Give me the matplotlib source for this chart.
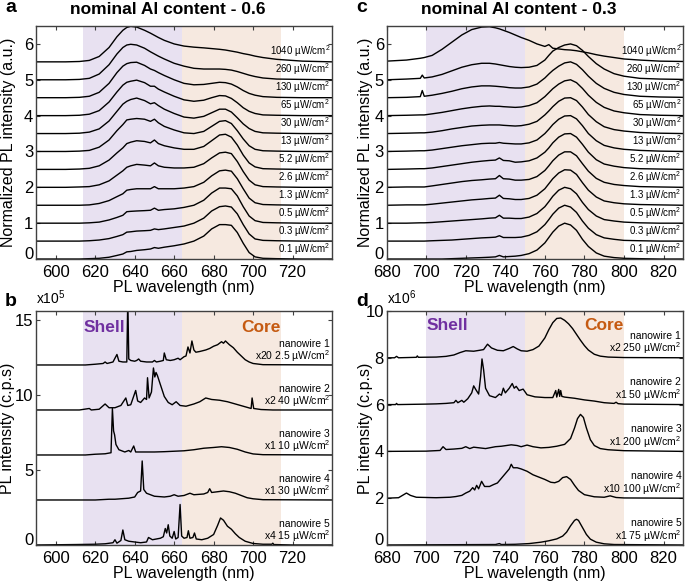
import numpy as np
import matplotlib.pyplot as plt
from matplotlib.transforms import ScaledTranslation

plt.rcParams['font.family'] = ['Liberation Sans', 'DejaVu Sans']
plt.rcParams['mathtext.fontset'] = 'custom'
plt.rcParams['mathtext.rm'] = 'Liberation Sans'
plt.rcParams['mathtext.it'] = 'Liberation Sans'

# ---------------- data ----------------
powers = ['0.1', '0.3', '0.5', '1.3', '2.6', '5.2', '13', '30', '65', '130', '260', '1040']

# panel a : Al 0.6, normalized spectra (relative to own baseline)
a_wl = [590, 605, 612, 617, 622, 627, 631, 634, 636, 638, 641, 645, 648, 650, 652, 655,
        660, 665, 670, 675, 679, 683, 686, 689, 692, 695, 698, 701, 705, 712, 725, 740]
a_01 = [0, 0, 0, 0.01, 0.02, 0.05, 0.1, 0.14, 0.2, 0.21, 0.24, 0.26, 0.28, 0.32, 0.3, 0.33,
        0.37, 0.42, 0.5, 0.64, 0.84, 0.96, 0.96, 0.94, 0.74, 0.44, 0.18, 0.06, 0.02, 0.01, 0, 0]
a_03 = [0, 0, 0, 0.01, 0.03, 0.07, 0.13, 0.18, 0.25, 0.26, 0.28, 0.29, 0.3, 0.34, 0.32, 0.34,
        0.38, 0.42, 0.5, 0.64, 0.84, 0.96, 0.98, 0.95, 0.76, 0.46, 0.2, 0.06, 0.02, 0.01, 0, 0]
a_05 = [0, 0, 0, 0.01, 0.03, 0.09, 0.16, 0.22, 0.32, 0.33, 0.34, 0.35, 0.36, 0.42, 0.36, 0.38,
        0.4, 0.44, 0.5, 0.64, 0.84, 0.98, 0.98, 0.96, 0.76, 0.46, 0.2, 0.07, 0.02, 0.01, 0, 0]
a_13 = [0, 0, 0, 0.01, 0.05, 0.13, 0.24, 0.32, 0.42, 0.44, 0.46, 0.46, 0.46, 0.52, 0.46, 0.46,
        0.46, 0.48, 0.52, 0.64, 0.82, 0.96, 0.98, 0.95, 0.74, 0.46, 0.2, 0.07, 0.02, 0.01, 0, 0]
a_26 = [0, 0, 0.01, 0.02, 0.07, 0.18, 0.34, 0.46, 0.56, 0.6, 0.64, 0.62, 0.6, 0.68, 0.6, 0.56,
        0.54, 0.54, 0.56, 0.66, 0.82, 0.96, 0.98, 0.94, 0.72, 0.44, 0.2, 0.07, 0.02, 0.01, 0, 0]
a_52 = [0, 0, 0.01, 0.03, 0.1, 0.26, 0.46, 0.6, 0.72, 0.76, 0.8, 0.78, 0.74, 0.82, 0.72, 0.66,
        0.6, 0.56, 0.56, 0.64, 0.8, 0.96, 0.98, 0.9, 0.68, 0.4, 0.18, 0.07, 0.02, 0.01, 0, 0]
a_130 = [0, 0, 0.01, 0.03, 0.12, 0.32, 0.58, 0.75, 0.88, 0.9, 0.92, 0.9, 0.84, 0.9, 0.8, 0.7,
         0.6, 0.52, 0.5, 0.56, 0.7, 0.84, 0.86, 0.78, 0.58, 0.35, 0.16, 0.06, 0.02, 0.01, 0, 0]
a_300 = [0, 0, 0.01, 0.04, 0.13, 0.35, 0.62, 0.82, 0.9, 0.95, 0.99, 0.92, 0.83, 0.86, 0.78, 0.68,
         0.56, 0.46, 0.43, 0.48, 0.58, 0.68, 0.68, 0.6, 0.44, 0.27, 0.14, 0.06, 0.02, 0.01, 0, 0]
a_650 = [0, 0, 0.01, 0.04, 0.14, 0.38, 0.66, 0.85, 0.93, 0.96, 0.99, 0.92, 0.82, 0.82, 0.74, 0.66,
         0.54, 0.44, 0.4, 0.43, 0.5, 0.56, 0.55, 0.48, 0.36, 0.22, 0.12, 0.06, 0.02, 0.01, 0, 0]
a_1300 = [0, 0, 0.01, 0.04, 0.15, 0.4, 0.7, 0.88, 0.95, 0.98, 0.99, 0.9, 0.8, 0.76, 0.7, 0.62,
          0.5, 0.4, 0.36, 0.37, 0.4, 0.43, 0.42, 0.38, 0.3, 0.2, 0.12, 0.07, 0.03, 0.01, 0, 0]
a_2600 = [0, 0, 0.01, 0.04, 0.16, 0.42, 0.72, 0.9, 0.97, 0.99, 0.97, 0.88, 0.78, 0.72, 0.66, 0.58,
          0.46, 0.38, 0.32, 0.3, 0.3, 0.3, 0.29, 0.27, 0.23, 0.18, 0.13, 0.09, 0.05, 0.02, 0.01, 0]
a_10400 = [0, 0, 0.01, 0.04, 0.15, 0.4, 0.7, 0.88, 0.96, 0.99, 0.97, 0.88, 0.8, 0.74, 0.68, 0.6,
           0.5, 0.44, 0.41, 0.39, 0.37, 0.35, 0.33, 0.3, 0.27, 0.23, 0.2, 0.16, 0.12, 0.07, 0.02, 0]

# panel c : Al 0.3, normalized spectra
c_wl = [680, 690, 697, 698, 699, 703, 708, 713, 718, 723, 728, 732, 735, 737, 739, 742, 745, 748,
        752, 756, 760, 762, 764, 767, 770, 773, 776, 779, 782, 786, 790, 795, 800, 808, 818, 830]
c_01 = [0, 0, 0, 0, 0, 0, 0, 0.01, 0.02, 0.03, 0.04, 0.05, 0.06, 0.1, 0.06, 0.07, 0.08, 0.1,
        0.15, 0.25, 0.45, 0.6, 0.75, 0.92, 1.0, 0.95, 0.8, 0.55, 0.35, 0.17, 0.08, 0.04, 0.02, 0.01, 0, 0]
c_03 = [0, 0, 0, 0, 0, 0.01, 0.02, 0.03, 0.05, 0.07, 0.09, 0.1, 0.11, 0.15, 0.1, 0.1, 0.1, 0.11,
        0.16, 0.26, 0.46, 0.6, 0.75, 0.92, 1.0, 0.95, 0.8, 0.56, 0.36, 0.18, 0.09, 0.05, 0.02, 0.01, 0, 0]
c_05 = [0, 0, 0.01, 0.01, 0.01, 0.02, 0.04, 0.06, 0.08, 0.1, 0.12, 0.14, 0.15, 0.22, 0.14, 0.14, 0.13, 0.13,
        0.17, 0.27, 0.46, 0.6, 0.75, 0.92, 1.0, 0.96, 0.82, 0.58, 0.38, 0.2, 0.1, 0.06, 0.03, 0.01, 0, 0]
c_13 = [0, 0.01, 0.01, 0.01, 0.01, 0.03, 0.06, 0.09, 0.12, 0.15, 0.17, 0.19, 0.2, 0.28, 0.19, 0.18, 0.16, 0.16,
        0.19, 0.28, 0.46, 0.6, 0.74, 0.9, 0.99, 0.98, 0.86, 0.63, 0.42, 0.23, 0.12, 0.07, 0.04, 0.02, 0.01, 0]
c_26 = [0, 0.01, 0.01, 0.01, 0.01, 0.04, 0.08, 0.12, 0.16, 0.19, 0.21, 0.23, 0.24, 0.33, 0.24, 0.23, 0.2, 0.2,
        0.22, 0.3, 0.47, 0.6, 0.74, 0.9, 0.99, 0.99, 0.88, 0.66, 0.45, 0.25, 0.14, 0.08, 0.05, 0.02, 0.01, 0]
c_52 = [0, 0.01, 0.02, 0.02, 0.02, 0.04, 0.08, 0.12, 0.16, 0.2, 0.23, 0.25, 0.26, 0.32, 0.25, 0.24, 0.2, 0.21,
        0.24, 0.32, 0.48, 0.6, 0.74, 0.9, 0.99, 1.0, 0.9, 0.7, 0.48, 0.27, 0.15, 0.09, 0.05, 0.02, 0.01, 0]
c_130 = [0, 0.01, 0.02, 0.02, 0.02, 0.04, 0.08, 0.12, 0.16, 0.19, 0.22, 0.23, 0.23, 0.25, 0.23, 0.22, 0.21, 0.21,
         0.24, 0.32, 0.5, 0.62, 0.75, 0.9, 0.99, 1.0, 0.91, 0.72, 0.5, 0.3, 0.17, 0.1, 0.06, 0.03, 0.01, 0]
c_300 = [0, 0.01, 0.02, 0.02, 0.02, 0.04, 0.08, 0.13, 0.17, 0.21, 0.23, 0.24, 0.24, 0.24, 0.23, 0.22, 0.21, 0.22,
         0.26, 0.34, 0.52, 0.63, 0.75, 0.9, 0.99, 1.0, 0.92, 0.74, 0.53, 0.33, 0.19, 0.11, 0.07, 0.03, 0.01, 0]
c_650 = [0, 0.01, 0.02, 0.02, 0.02, 0.05, 0.09, 0.14, 0.19, 0.23, 0.26, 0.27, 0.26, 0.26, 0.25, 0.24, 0.23, 0.24,
         0.28, 0.36, 0.53, 0.64, 0.75, 0.88, 0.97, 1.0, 0.92, 0.76, 0.57, 0.37, 0.23, 0.13, 0.08, 0.03, 0.01, 0]
c_1300 = [0, 0.01, 0.03, 0.2, 0.04, 0.07, 0.12, 0.18, 0.25, 0.3, 0.33, 0.33, 0.32, 0.31, 0.3, 0.28, 0.27, 0.27,
          0.3, 0.38, 0.55, 0.66, 0.76, 0.88, 0.97, 1.0, 0.93, 0.78, 0.6, 0.4, 0.26, 0.15, 0.09, 0.04, 0.02, 0.01]
c_2600 = [0, 0.02, 0.04, 0.13, 0.05, 0.08, 0.15, 0.25, 0.35, 0.42, 0.46, 0.46, 0.44, 0.42, 0.4, 0.37, 0.35, 0.34,
          0.35, 0.4, 0.55, 0.68, 0.8, 0.9, 0.97, 1.0, 0.95, 0.82, 0.65, 0.45, 0.3, 0.17, 0.1, 0.04, 0.02, 0.01]
c_10400 = [0.02, 0.05, 0.1, 0.11, 0.12, 0.18, 0.35, 0.55, 0.75, 0.9, 0.97, 0.98, 0.95, 0.92, 0.88, 0.82, 0.75, 0.68,
           0.6, 0.5, 0.43, 0.48, 0.38, 0.36, 0.34, 0.33, 0.31, 0.28, 0.25, 0.2, 0.16, 0.12, 0.08, 0.05, 0.02, 0.01]

# panel b : Al 0.6 single nanowires, (wavelength nm, counts x1e5 above own baseline)
b_nw1 = [(590, 0), (615, 0), (620, 0.05), (624, 0.1), (625, 0.2), (626, 0.1), (629, 0.2), (631, 0.7),
         (632, 0.25), (634, 0.2), (636, 0.2), (636.5, 4.5), (637, 0.4), (638, 0.3), (640, 0.25), (641, 0.3),
         (642, 0.4), (643, 0.25), (646, 0.2), (649, 0.2), (650, 0.3), (651, 0.2), (653, 0.25), (654.5, 0.3),
         (655, 0.8), (656, 0.35), (658, 0.3), (660, 0.35), (662, 0.45), (663, 0.35), (665, 0.55), (666, 0.6),
         (667, 1.2), (668, 0.8), (669, 1.6), (670, 1.0), (671, 0.85), (673, 0.9), (676, 1.0), (678, 1.1),
         (680, 1.25), (682, 1.35), (684, 1.55), (685, 1.45), (686, 1.6), (688, 1.35), (690, 1.15), (692, 0.85),
         (694, 0.6), (696, 0.35), (698, 0.2), (700, 0.1), (705, 0.02), (740, 0)]
b_nw2 = [(590, 0), (612, 0), (617, 0.1), (618, 0), (622, 0.05), (625, 0.4), (627, 0.15), (630, 0.15),
         (633, 0.3), (635.5, 0.8), (636.5, 0.3), (638, 0.35), (640.5, 1.3), (641.5, 0.6), (643, 0.5),
         (645, 0.8), (646, 0.7), (646.5, 2.15), (647.3, 0.8), (648.5, 1.2), (649.5, 2.8), (650.2, 2.2),
         (650.8, 2.5), (651.5, 2.3), (652.5, 1.9), (653.5, 1.5), (655, 0.9), (657, 0.5), (659, 0.35),
         (661, 0.55), (663, 0.3), (666, 0.25), (670, 0.4), (673, 0.55), (676, 0.8), (679, 0.7), (683, 0.65),
         (687, 0.55), (691, 0.4), (695, 0.25), (699, 0.1), (699.5, 0.8), (700.3, 0.1), (704, 0.03),
         (710, 0), (740, 0)]
b_nw3 = [(590, 0), (615, 0), (620, 0.05), (625, 0.08), (628, 0.15), (628.7, 3.1), (629.3, 1.6),
         (629.8, 1.35), (630.5, 0.7), (632, 0.35), (635, 0.2), (637, 0.3), (638, 0.2), (639.5, 0.6),
         (640.5, 0.2), (645, 0.2), (650, 0.2), (655, 0.22), (660, 0.25), (665, 0.28), (670, 0.35),
         (675, 0.45), (680, 0.5), (684, 0.55), (688, 0.5), (692, 0.38), (696, 0.2), (700, 0.07),
         (705, 0.02), (740, 0)]
b_nw4 = [(590, 0), (620, 0), (627, 0.05), (630, 0.05), (637, 0.12), (640, 0.2), (641.5, 0.5), (643, 0.6),
         (643.8, 2.6), (644.6, 0.7), (646, 0.45), (648, 0.35), (650, 0.25), (655, 0.2), (658, 0.25),
         (660, 0.35), (662, 0.25), (665, 0.3), (668, 0.45), (670, 0.35), (675, 0.4), (677, 0.5),
         (678, 0.75), (679, 0.5), (682, 0.55), (685, 0.6), (688, 0.55), (691, 0.45), (694, 0.3),
         (697, 0.15), (700, 0.08), (705, 0.02), (740, 0)]
b_nw5 = [(590, 0), (610, 0.03), (620, 0.05), (625, 0.08), (629, 0.15), (630, 0.35), (631, 0.12),
         (633, 0.3), (634, 1.0), (635, 0.35), (637, 0.25), (640, 0.2), (643, 0.15), (646, 0.2), (647, 0.5),
         (649, 0.35), (651, 0.4), (653, 0.45), (654.5, 0.55), (655.5, 1.1), (656.2, 0.8), (657, 1.35),
         (657.8, 0.6), (659, 0.45), (660, 0.9), (660.8, 0.4), (662, 0.5), (663, 2.7), (663.8, 0.6),
         (665, 0.45), (666.5, 0.5), (667.2, 0.95), (668, 0.45), (669.5, 0.5), (670.3, 0.8), (671.2, 0.4),
         (674, 0.35), (677, 0.45), (680, 0.7), (682, 1.3), (683.5, 1.8), (685, 1.65), (687, 1.25),
         (689, 1.05), (691, 0.75), (693, 0.5), (696, 0.25), (700, 0.1), (705, 0.05), (709.5, 0.05),
         (710, 0.12), (710.5, 0.03), (720, 0), (740, 0)]
b_labels = [('nanowire 1', 'x20 2.5 µW/cm$^2$'), ('nanowire 2', 'x2 40 µW/cm$^2$'),
            ('nanowire 3', 'x1 10 µW/cm$^2$'), ('nanowire 4', 'x1 30 µW/cm$^2$'),
            ('nanowire 5', 'x4 15 µW/cm$^2$')]

# panel d : Al 0.3 single nanowires (x1e6)
d_nw1 = [(680, 0), (684, 0), (685, 0.06), (686, 0), (695, 0.02), (695.5, 0.08), (696, 0.02), (705, 0.03),
         (710, 0.06), (714, 0.12), (717, 0.22), (720, 0.3), (724, 0.28), (727, 0.32), (729, 0.35), (731, 0.58),
         (733, 0.42), (736, 0.32), (739, 0.3), (742, 0.4), (744, 0.48), (746, 0.38), (748, 0.3), (751, 0.28),
         (754, 0.35), (757, 0.5), (760, 0.85), (762, 1.2), (764, 1.5), (766, 1.68), (768, 1.7), (770, 1.6),
         (772, 1.45), (774, 1.25), (776, 1.0), (778, 0.75), (780, 0.52), (782, 0.33), (785, 0.15),
         (788, 0.07), (792, 0.03), (800, 0.01), (830, 0)]
d_nw2 = [(680, 0), (684.5, 0), (685, 0.05), (685.5, 0), (700, 0.02), (705, 0.03), (710, 0.05), (714, 0.08),
         (715, 0.18), (716, 0.08), (718, 0.18), (719, 0.1), (721, 0.25), (723, 0.5), (724, 0.8), (725, 0.65),
         (726.5, 0.45), (727.5, 1.2), (728.2, 1.95), (729, 1.5), (730, 0.7), (732, 0.38), (735, 0.3),
         (737, 0.45), (738, 0.4), (739, 0.7), (740, 0.5), (742, 0.7), (743.5, 0.9), (744.5, 0.7),
         (745.5, 0.78), (747, 0.6), (749, 0.66), (751, 0.42), (755, 0.33), (760, 0.3), (764, 0.3),
         (765.5, 0.6), (766, 0.32), (767, 0.65), (767.5, 0.35), (768, 0.6), (768.6, 0.35), (770, 0.32),
         (775, 0.27), (780, 0.2), (785, 0.15), (790, 0.08), (795, 0.05), (796, 0.1), (797, 0.04),
         (800, 0.02), (830, 0)]
d_nw3 = [(680, 0), (700, 0.01), (707, 0.04), (708.5, 0.2), (710, 0.08), (714, 0.1), (718, 0.13), (720, 0.2),
         (722, 0.12), (724, 0.18), (727, 0.15), (730, 0.12), (735, 0.2), (738, 0.22), (743, 0.28),
         (746, 0.25), (748, 0.2), (751, 0.27), (754, 0.2), (758, 0.15), (762, 0.17), (766, 0.22),
         (770, 0.3), (773, 0.55), (775, 1.0), (776.5, 1.4), (778, 1.58), (779.5, 1.45), (781, 1.0),
         (783, 0.5), (785, 0.25), (788, 0.12), (792, 0.07), (800, 0.03), (830, 0)]
d_nw4 = [(680, 0), (686, 0.02), (688, 0.12), (690, 0.22), (692, 0.12), (695, 0.04), (705, 0.02), (712, 0.04),
         (715, 0.07), (718, 0.12), (720, 0.22), (722, 0.3), (723.5, 0.45), (724.5, 0.35), (725.5, 0.55),
         (726.5, 0.4), (728, 0.72), (729.5, 0.5), (732, 0.5), (734, 0.58), (736, 0.65), (738, 0.85),
         (740, 1.05), (742, 1.25), (743, 1.45), (744, 1.3), (746, 1.3), (748, 1.25), (751, 1.15),
         (754, 1.0), (757, 0.9), (760, 0.8), (763, 0.68), (765, 0.66), (767, 0.72), (769, 0.88),
         (771, 0.92), (773, 0.8), (775, 0.55), (777, 0.33), (780, 0.15), (785, 0.06), (790, 0.04),
         (793, 0.1), (796, 0.03), (800, 0.01), (830, 0)]
d_nw5 = [(680, 0), (735, 0.02), (737, 0.06), (738, 0.02), (745, 0.03), (752, 0.06), (758, 0.12), (762, 0.18),
         (766, 0.26), (769, 0.38), (771, 0.55), (773, 0.82), (775, 1.05), (776, 1.1), (777, 1.05),
         (779, 0.75), (781, 0.45), (783, 0.25), (786, 0.12), (790, 0.05), (795, 0.02), (830, 0)]
d_labels = [('nanowire 1', 'x2 250 µW/cm$^2$'), ('nanowire 2', 'x1 50 µW/cm$^2$'),
            ('nanowire 3', 'x1 200 µW/cm$^2$'), ('nanowire 4', 'x10 100 µW/cm$^2$'),
            ('nanowire 5', 'x1 75 µW/cm$^2$')]

# ---------------- figure ----------------
VIOLET = '#e8e1f1'
PEACH = '#f6e9e0'

fig = plt.figure(figsize=(6.85, 5.83), dpi=100)
ax_a = fig.add_axes([0.0526, 0.5557, 0.4321, 0.3997])
ax_c = fig.add_axes([0.5645, 0.5557, 0.4330, 0.3997])
ax_b = fig.add_axes([0.0526, 0.0652, 0.4321, 0.4014])
ax_d = fig.add_axes([0.5645, 0.0652, 0.4330, 0.4014])


def style(ax, xlim, ylim, xticks, yticks, shell, ylabel, ylab_x):
    ax.axvspan(shell, shell + 50, color=VIOLET, lw=0, zorder=0)
    ax.axvspan(shell + 50, shell + 100, color=PEACH, lw=0, zorder=0)
    ax.set_xlim(*xlim)
    ax.set_ylim(*ylim)
    ax.set_xticks(xticks)
    ax.set_yticks(yticks)
    ax.tick_params(direction='in', top=True, right=True, length=3, width=0.8,
                   labelsize=12, color='0.25')
    ax.tick_params(axis='x', pad=4)
    ax.tick_params(axis='y', pad=2)
    for s in ax.spines.values():
        s.set_color('0.25')
        s.set_linewidth(1.0)
    ax.set_xlabel('PL wavelength (nm)', fontsize=11.5, labelpad=0)
    ax.set_ylabel(ylabel, fontsize=11.5)
    ax.yaxis.set_label_coords(ylab_x, 0.5)
    # lift the "0" a little so it clears the first wavelength label
    fig.canvas.draw()
    lab0 = ax.get_yticklabels()[0]
    lab0.set_transform(lab0.get_transform() + ScaledTranslation(0, 4 / 72, fig.dpi_scale_trans))


# panel a
a_curves = [a_01, a_03, a_05, a_13, a_26, a_52, a_130, a_300, a_650, a_1300, a_2600, a_10400]
style(ax_a, (590, 740), (0, 6.5), range(600, 721, 20), range(0, 7), 614,
      'Normalized PL intensity (a.u.)', -0.068)
for i, (p, vals) in enumerate(zip(powers, a_curves)):
    ax_a.plot(a_wl, np.array(vals) + 0.5 * i, color='k', lw=1)
    ax_a.text(739, 0.5 * i + 0.07, p + ' µW/cm$^2$', ha='right', va='bottom', fontsize=7)

# panel c
c_curves = [c_01, c_03, c_05, c_13, c_26, c_52, c_130, c_300, c_650, c_1300, c_2600, c_10400]
style(ax_c, (680, 830), (0, 6.5), range(680, 821, 20), range(0, 7), 700,
      'Normalized PL intensity (a.u.)', -0.046)
for i, (p, vals) in enumerate(zip(powers, c_curves)):
    ax_c.plot(c_wl, np.array(vals) + 0.5 * i, color='k', lw=1)
    ax_c.text(829, 0.5 * i + 0.07, p + ' µW/cm$^2$', ha='right', va='bottom', fontsize=7)

# panel b
style(ax_b, (590, 740), (0, 15.6), [600, 620, 640, 660, 680, 700, 720], [0, 5, 10, 15], 614,
      'PL intensity (c.p.s)', -0.07)
for i, (nw, lab) in enumerate(zip([b_nw1, b_nw2, b_nw3, b_nw4, b_nw5], b_labels)):
    base = 12 - 3 * i
    wl, val = zip(*nw)
    ax_b.plot(wl, np.array(val) + base, color='k', lw=1)
    ax_b.text(739, base + 1.4, lab[0], ha='right', va='center', fontsize=7.5)
    ax_b.text(739, base + 0.6, lab[1], ha='right', va='center', fontsize=7.5)
ax_b.text(614, 14.5, 'Shell', color='#7030a0', fontsize=12.5, fontweight='bold', va='center')
ax_b.text(714, 14.5, 'Core', color='#c55a11', fontsize=12.5, fontweight='bold', va='center', ha='right')
ax_b.text(0.0, 1.015, 'x10$^5$', transform=ax_b.transAxes, fontsize=10, va='bottom')

# panel d
style(ax_d, (680, 830), (0, 10), range(680, 821, 20), range(0, 11, 2), 700,
      'PL intensity (c.p.s)', -0.046)
for i, (nw, lab) in enumerate(zip([d_nw1, d_nw2, d_nw3, d_nw4, d_nw5], d_labels)):
    base = 8 - 2 * i
    wl, val = zip(*nw)
    ax_d.plot(wl, np.array(val) + base, color='k', lw=1)
    ax_d.text(829, base + 0.95, lab[0], ha='right', va='center', fontsize=7.5)
    ax_d.text(829, base + 0.4, lab[1], ha='right', va='center', fontsize=7.5)
ax_d.text(700, 9.4, 'Shell', color='#7030a0', fontsize=12.5, fontweight='bold', va='center')
ax_d.text(800, 9.4, 'Core', color='#c55a11', fontsize=12.5, fontweight='bold', va='center', ha='right')
ax_d.text(0.0, 1.015, 'x10$^6$', transform=ax_d.transAxes, fontsize=10, va='bottom')

# titles and panel letters
fig.text(168 / 685, 1 - 9 / 583, 'nominal Al content - 0.6', fontsize=12.5, fontweight='bold',
         ha='center', va='center')
fig.text(519 / 685, 1 - 9 / 583, 'nominal Al content - 0.3', fontsize=12.5, fontweight='bold',
         ha='center', va='center')
for lx, ly, letter in [(5, 8, 'a'), (356, 8, 'c'), (5, 302, 'b'), (356, 302, 'd')]:
    fig.text(lx / 685, 1 - ly / 583, letter, fontsize=14, fontweight='bold', va='center')

fig.savefig('out.png', dpi=100)
